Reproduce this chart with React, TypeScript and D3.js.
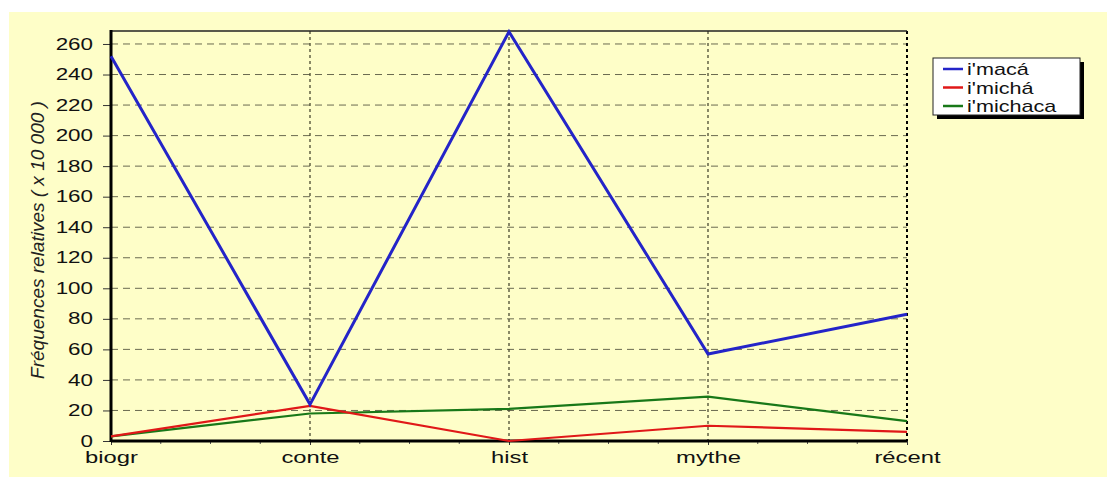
import React, {useEffect, useRef} from "react";
import * as d3 from "d3";

const categories = ["biogr", "conte", "hist", "mythe", "récent"];
const macaValues = [252, 24, 268, 57, 83];
const michaValues = [3, 23, 0, 10, 6];
const michacaValues = [3, 18, 21, 29, 13];
const yTicks = [0, 20, 40, 60, 80, 100, 120, 140, 160, 180, 200, 220, 240, 260];

const series = [
    {name: "i'macá", values: macaValues, color: "#2424c8", width: 3},
    {name: "i'michá", values: michaValues, color: "#e01818", width: 2.2},
    {name: "i'michaca", values: michacaValues, color: "#187818", width: 2.2},
];

const font = "Arial, 'Liberation Sans', sans-serif";
const stretch = 1.4; // the original text is wide, stretched sideways

const App = () => {
    const ref = useRef<SVGGElement>(null);
    const width = 1107;
    const height = 477;
    const left = 111;
    const right = 907;
    const top = 31;
    const bottom = 441;

    useEffect(() => {
        const g = d3.select(ref.current);
        g.selectAll("*").remove();

        const x = d3.scalePoint().domain(categories).range([left, right]);
        const y = d3.scaleLinear().domain([0, 268.5]).range([bottom, top]);

        // horizontal dashed grid
        g.selectAll(".hgrid")
            .data(yTicks.filter(d => d > 0))
            .enter()
            .append("line")
            .attr("x1", left)
            .attr("x2", right)
            .attr("y1", d => y(d))
            .attr("y2", d => y(d))
            .attr("stroke", "#6a6a50")
            .attr("stroke-width", 1)
            .attr("stroke-dasharray", "7,5");

        // vertical dotted grid
        g.selectAll(".vgrid")
            .data(categories.slice(1))
            .enter()
            .append("line")
            .attr("x1", d => x(d)!)
            .attr("x2", d => x(d)!)
            .attr("y1", top)
            .attr("y2", bottom)
            .attr("stroke", d => d === "récent" ? "#000" : "#4a4a32")
            .attr("stroke-width", d => d === "récent" ? 2 : 1.3)
            .attr("stroke-dasharray", "3,3");

        // top border
        g.append("line")
            .attr("x1", left)
            .attr("x2", right)
            .attr("y1", top)
            .attr("y2", top)
            .attr("stroke", "#222")
            .attr("stroke-width", 1.5);

        // y axis
        const yAxis = d3.axisLeft(y).tickValues(yTicks).tickSize(8).tickPadding(10);
        const ya = g.append("g").attr("transform", `translate(${left},0)`).call(yAxis);
        ya.select(".domain").remove();
        ya.selectAll("line").attr("stroke", "#333");
        ya.selectAll("text")
            .attr("font-family", font)
            .attr("font-size", 16)
            .attr("fill", "#111")
            .attr("x", -18 / stretch)
            .attr("transform", `scale(${stretch},1)`);

        // x axis
        const xAxis = d3.axisBottom(x).tickSize(4);
        const xa = g.append("g").attr("transform", `translate(0,${bottom})`).call(xAxis);
        xa.select(".domain").remove();
        xa.selectAll("line").attr("stroke", "#333");
        xa.selectAll("text")
            .attr("font-family", font)
            .attr("font-size", 17)
            .attr("fill", "#111")
            .attr("y", 22)
            .attr("dy", 0)
            .attr("transform", `scale(${stretch},1)`);

        // minor x ticks
        const step = x.step();
        const minor: number[] = [];
        categories.slice(0, -1).forEach(c => {
            for (let k = 1; k < 4; k++) minor.push(x(c)! + (step * k) / 4);
        });
        g.selectAll(".minor")
            .data(minor)
            .enter()
            .append("line")
            .attr("x1", d => d)
            .attr("x2", d => d)
            .attr("y1", bottom)
            .attr("y2", bottom + 3)
            .attr("stroke", "#555");

        // axis lines
        g.append("line")
            .attr("x1", left)
            .attr("x2", left)
            .attr("y1", top - 1)
            .attr("y2", bottom + 1)
            .attr("stroke", "#000")
            .attr("stroke-width", 3);
        g.append("line")
            .attr("x1", left)
            .attr("x2", right)
            .attr("y1", bottom)
            .attr("y2", bottom)
            .attr("stroke", "#000")
            .attr("stroke-width", 3);

        // lines
        const line = d3.line<number>()
            .x((d, i) => x(categories[i])!)
            .y(d => y(d));

        [...series].reverse().forEach(s => {
            g.append("path")
                .datum(s.values)
                .attr("d", line)
                .attr("fill", "none")
                .attr("stroke", s.color)
                .attr("stroke-width", s.width)
                .attr("stroke-linejoin", "miter");
        });

        // y title
        g.append("text")
            .attr("transform", `translate(44,${(top + bottom) / 2 + 4}) rotate(-90)`)
            .attr("text-anchor", "middle")
            .attr("font-family", font)
            .attr("font-style", "italic")
            .attr("font-size", 19)
            .attr("fill", "#222")
            .text("Fréquences relatives ( x 10 000 )");

        // legend
        const lg = g.append("g").attr("transform", "translate(933,58)");
        lg.append("rect")
            .attr("x", 4)
            .attr("y", 4)
            .attr("width", 147)
            .attr("height", 57)
            .attr("fill", "#000");
        lg.append("rect")
            .attr("x", 0)
            .attr("y", 0)
            .attr("width", 147)
            .attr("height", 57)
            .attr("fill", "#fff")
            .attr("stroke", "#222")
            .attr("stroke-width", 1);
        const items = lg.selectAll(".legend")
            .data(series)
            .enter()
            .append("g")
            .attr("transform", (d, i) => `translate(0,${11 + i * 18.5})`);
        items.append("line")
            .attr("x1", 10)
            .attr("x2", 30)
            .attr("y1", 0)
            .attr("y2", 0)
            .attr("stroke", d => d.color)
            .attr("stroke-width", 2.5);
        items.append("text")
            .attr("x", 34 / 1.35)
            .attr("y", 6)
            .attr("transform", "scale(1.35,1)")
            .attr("font-family", font)
            .attr("font-size", 16)
            .attr("fill", "#111")
            .text(d => d.name);
    }, []);

    return (
        <svg width={width} height={height} style={{position: "absolute", left: 0, top: 0}}>
            <rect x={0} y={0} width={width} height={height} fill="#ffffff"/>
            <rect x={9} y={12} width={width - 9} height={height - 12} fill="#fefec8"/>
            <g ref={ref}/>
        </svg>
    );
};

export default App;
